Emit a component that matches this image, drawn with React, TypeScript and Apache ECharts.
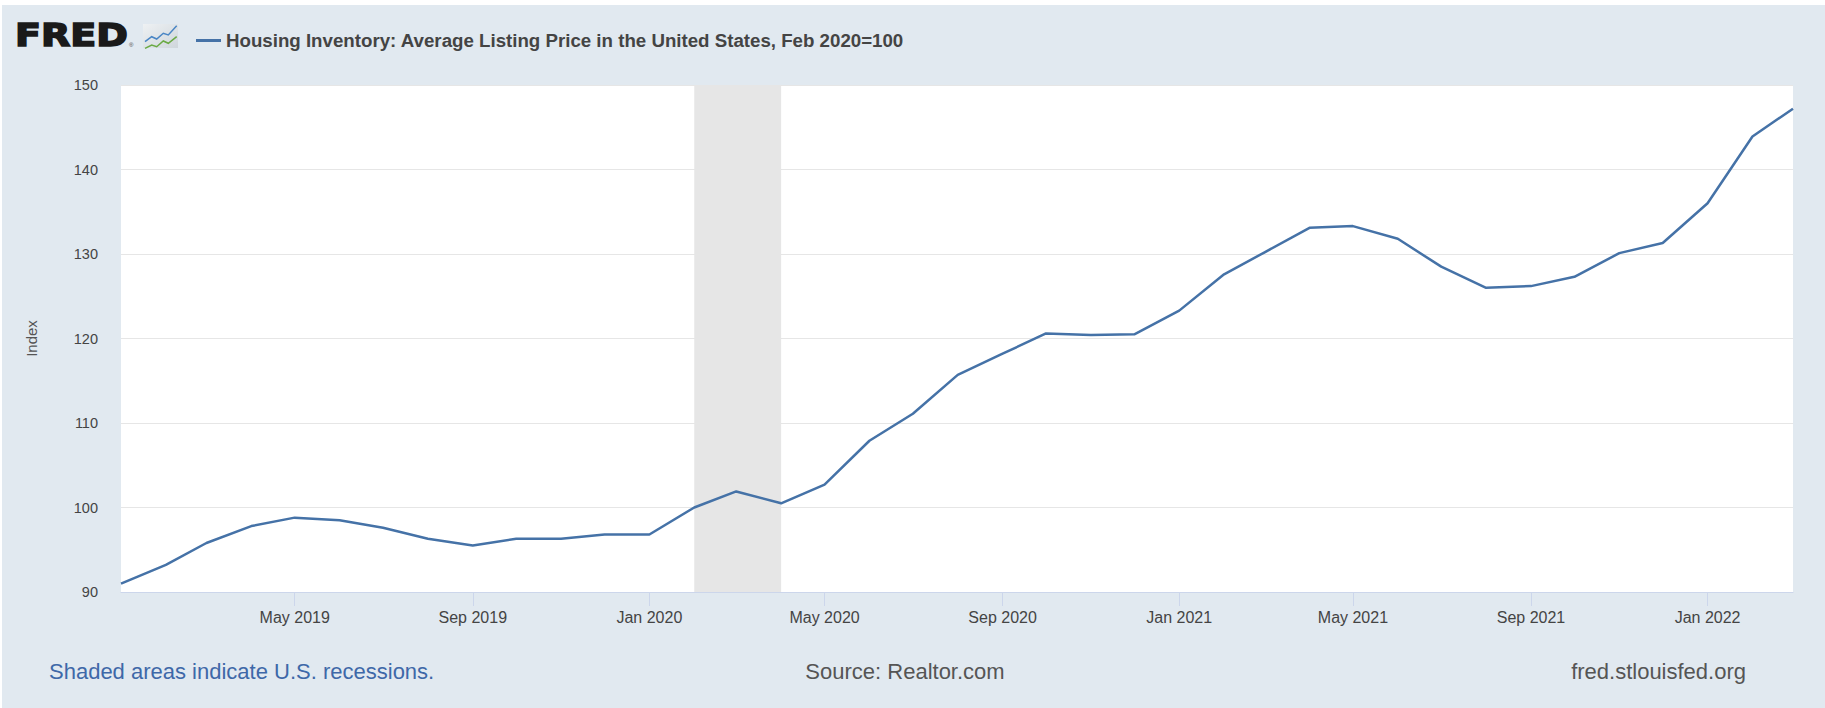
import React, { useEffect, useRef } from "react";
import * as echarts from "echarts";

const seriesName = "Housing Inventory: Average Listing Price in the United States, Feb 2020=100";

const dates = [
  "2019-01-01", "2019-02-01", "2019-03-01", "2019-04-01", "2019-05-01", "2019-06-01",
  "2019-07-01", "2019-08-01", "2019-09-01", "2019-10-01", "2019-11-01", "2019-12-01",
  "2020-01-01", "2020-02-01", "2020-03-01", "2020-04-01", "2020-05-01", "2020-06-01",
  "2020-07-01", "2020-08-01", "2020-09-01", "2020-10-01", "2020-11-01", "2020-12-01",
  "2021-01-01", "2021-02-01", "2021-03-01", "2021-04-01", "2021-05-01", "2021-06-01",
  "2021-07-01", "2021-08-01", "2021-09-01", "2021-10-01", "2021-11-01", "2021-12-01",
  "2022-01-01", "2022-02-01", "2022-03-01",
];

const values = [
  91.0, 93.2, 95.8, 97.8, 98.8, 98.5, 97.6, 96.3, 95.5, 96.3, 96.3, 96.8,
  96.8, 100.0, 101.9, 100.5, 102.7, 107.9, 111.1, 115.7, 118.2, 120.6, 120.4, 120.5,
  123.3, 127.6, 130.2, 133.1, 133.3, 131.8, 128.5, 126.0, 126.2, 127.3, 130.1, 131.3,
  136.0, 143.9, 147.2,
];

const tickDates = [
  "2019-05-01", "2019-09-01", "2020-01-01", "2020-05-01", "2020-09-01",
  "2021-01-01", "2021-05-01", "2021-09-01", "2022-01-01",
];
const tickLabels = [
  "May 2019", "Sep 2019", "Jan 2020", "May 2020", "Sep 2020",
  "Jan 2021", "May 2021", "Sep 2021", "Jan 2022",
];

const recession = ["2020-02-01", "2020-04-01"];

const yTicks = { min: 90, max: 150, interval: 10 };

const toTs = (s: string) => {
  const [y, m, d] = s.split("-").map(Number);
  return Date.UTC(y, m - 1, d);
};

export default function App() {
  const ref = useRef<HTMLDivElement>(null);

  useEffect(() => {
    if (!ref.current) return;
    const chart = echarts.init(ref.current, undefined, { renderer: "svg" });
    const tickTs = tickDates.map(toTs);
    const font = "Liberation Sans";

    chart.setOption({
      animation: false,
      backgroundColor: "#e1e9f0",
      textStyle: { fontFamily: font },
      legend: {
        left: 189,
        top: 21,
        icon: "rect",
        itemWidth: 25,
        itemHeight: 3,
        selectedMode: false,
        data: [seriesName],
        textStyle: {
          fontFamily: font,
          fontSize: 18.7,
          fontWeight: "bold",
          color: "#444",
        },
      },
      grid: {
        left: 119,
        right: 32,
        top: 80,
        bottom: 116,
        show: true,
        backgroundColor: "#ffffff",
        borderWidth: 0,
      },
      xAxis: {
        type: "value",
        min: toTs(dates[0]),
        max: toTs(dates[dates.length - 1]),
        scale: true,
        splitLine: { show: false },
        axisLine: { lineStyle: { color: "#ccd6eb", width: 1 } },
        axisTick: {
          show: true,
          length: 14,
          customValues: tickTs,
          lineStyle: { color: "#ccd6eb" },
        },
        axisLabel: {
          customValues: tickTs,
          color: "#444",
          fontSize: 16,
          fontFamily: font,
          margin: 17,
          hideOverlap: false,
          formatter: (v: number) => {
            let best = -1;
            let bd = Infinity;
            tickTs.forEach((t, i) => {
              const d = Math.abs(t - v);
              if (d < bd) { bd = d; best = i; }
            });
            return bd < 86400000 * 3 ? tickLabels[best] : "";
          },
        },
      },
      yAxis: {
        type: "value",
        min: yTicks.min,
        max: yTicks.max,
        interval: yTicks.interval,
        name: "Index",
        nameLocation: "middle",
        nameGap: 82,
        nameTextStyle: { color: "#555", fontSize: 15, fontFamily: font },
        axisLine: { show: false },
        axisTick: { show: false },
        axisLabel: { color: "#444", fontSize: 14.5, margin: 23, fontFamily: font },
        splitLine: { lineStyle: { color: "#e6e6e6", width: 1 } },
      },
      graphic: [
        {
          type: "text",
          x: 13,
          y: 30,
          scaleX: 1.19,
          style: {
            text: "FRED",
            font: 'bold 32px "DejaVu Sans"',
            fill: "#1a1a1a",
            stroke: "#1a1a1a",
            lineWidth: 1.6,
            textAlign: "left",
            textVerticalAlign: "middle",
          },
        },
        {
          type: "text",
          x: 127,
          y: 40,
          style: {
            text: "®",
            font: '6px "Liberation Sans"',
            fill: "#444",
            textAlign: "left",
            textVerticalAlign: "middle",
          },
        },
        {
          type: "rect",
          shape: { x: 141, y: 19, width: 35, height: 24 },
          style: {
            fill: new echarts.graphic.LinearGradient(0, 0, 1, 1, [
              { offset: 0, color: "#eef1f3" },
              { offset: 1, color: "#cfd6dc" },
            ]),
          },
        },
        {
          type: "polyline",
          shape: {
            points: [[143, 36.7], [149.7, 31.7], [154.7, 34], [161.3, 28.3], [166.3, 30], [174.7, 20.7]],
          },
          style: { stroke: "#4a86c5", lineWidth: 1.5, fill: "none" },
        },
        {
          type: "polyline",
          shape: {
            points: [[143, 43.3], [149.7, 40], [154.7, 41.7], [161.3, 36], [166.3, 38.3], [174.7, 31.7]],
          },
          style: { stroke: "#6aaa44", lineWidth: 1.5, fill: "none" },
        },
        {
          type: "text",
          x: 47,
          y: 666,
          style: {
            text: "Shaded areas indicate U.S. recessions.",
            font: '22px "Liberation Sans"',
            fill: "#3e68a8",
            textAlign: "left",
            textVerticalAlign: "middle",
          },
        },
        {
          type: "text",
          x: 903,
          y: 666,
          style: {
            text: "Source: Realtor.com",
            font: '22px "Liberation Sans"',
            fill: "#555",
            textAlign: "center",
            textVerticalAlign: "middle",
          },
        },
        {
          type: "text",
          x: 1744,
          y: 666,
          style: {
            text: "fred.stlouisfed.org",
            font: '22px "Liberation Sans"',
            fill: "#555",
            textAlign: "right",
            textVerticalAlign: "middle",
          },
        },
      ],
      series: [
        {
          name: seriesName,
          type: "line",
          data: dates.map((d, i) => [toTs(d), values[i]]),
          showSymbol: false,
          symbol: "none",
          color: "#4572a7",
          lineStyle: { color: "#4572a7", width: 2.5 },
          emphasis: { disabled: true },
          z: 5,
          markArea: {
            silent: true,
            z: 1,
            itemStyle: { color: "#e6e6e6" },
            data: [[{ xAxis: toTs(recession[0]) }, { xAxis: toTs(recession[1]) }]],
          },
        },
      ],
    });

    return () => chart.dispose();
  }, []);

  return (
    <div
      ref={ref}
      style={{ position: "absolute", left: 2, top: 5, width: 1823, height: 703 }}
    />
  );
}
